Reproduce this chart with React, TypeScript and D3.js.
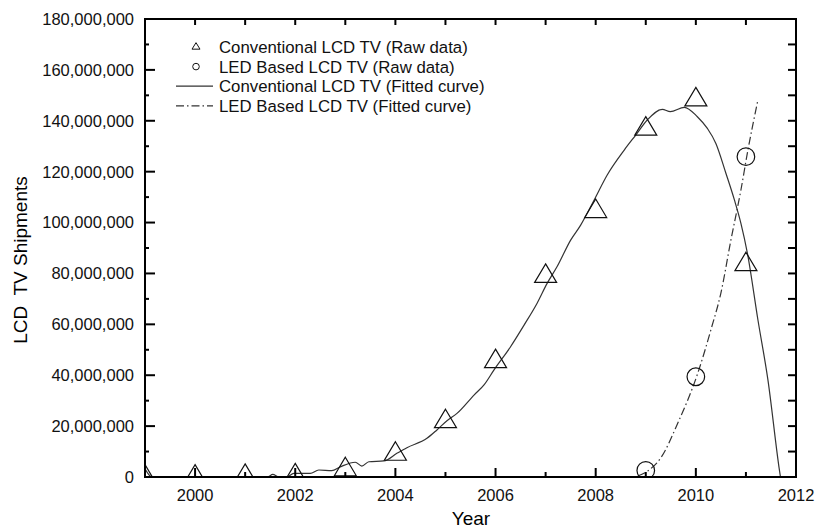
import React from "react";
import * as d3 from "d3";

// raw shipments (units)
const convYears = [1999, 2000, 2001, 2002, 2003, 2004, 2005, 2006, 2007, 2008, 2009, 2010, 2011];
const convRaw = [0, 0, 0.3e6, 0.5e6, 2.9e6, 9.0e6, 21.8e6, 45.4e6, 78.9e6, 104.4e6, 136.8e6, 148.3e6, 83.5e6];

const ledYears = [2009, 2010, 2011];
const ledRaw = [2.6e6, 39.4e6, 125.9e6];

// fitted curves: [year, millions]
const convFit: [number, number][] = [
  [1998.96, 4.7], [1999.14, 0], [2001.45, 0], [2001.55, 1.0], [2001.68, 0], [2001.83, 0],
  [2001.97, 1.45], [2002.3, 1.45], [2002.47, 2.75], [2002.73, 2.5], [2002.9, 4.0],
  [2003.2, 5.8], [2003.33, 4.3], [2003.47, 6.0], [2003.77, 6.3], [2004.03, 9.3],
  [2004.23, 11.5], [2004.63, 15.2], [2004.83, 18.5], [2005.03, 22.1], [2005.23, 25.0],
  [2005.57, 32.2], [2005.77, 36.2], [2005.97, 42.1], [2006.3, 51.2], [2006.57, 59.7],
  [2006.83, 68.3], [2007.03, 76.1], [2007.23, 82.7], [2007.5, 93.1], [2007.7, 99.0],
  [2007.97, 108.9], [2008.23, 118.7], [2008.57, 128.5], [2008.8, 134.4], [2009.03, 140.3],
  [2009.33, 144.5], [2009.49, 143.6], [2009.77, 145.3], [2010.03, 141.6], [2010.23, 137.0],
  [2010.4, 131.1], [2010.6, 119.4], [2010.77, 108.9], [2010.9, 99.7], [2011.03, 87.9],
  [2011.24, 61.7], [2011.44, 38.1], [2011.66, 3.9], [2011.72, -4],
];

const ledFit: [number, number][] = [
  [2008.84, 0.4], [2009.04, 2.4], [2009.3, 7.5], [2009.64, 21.2], [2010.04, 40.9],
  [2010.3, 57.8], [2010.5, 72.3], [2010.7, 93.1], [2010.9, 112.8], [2011.04, 128.5],
  [2011.24, 148.2],
];

const xTicks = [2000, 2002, 2004, 2006, 2008, 2010, 2012];
const legendLabels = [
  "Conventional LCD TV (Raw data)",
  "LED Based LCD TV (Raw data)",
  "Conventional LCD TV (Fitted curve)",
  "LED Based LCD TV (Fitted curve)",
];

const W = 815;
const H = 530;
const font = "'Liberation Sans', Arial, sans-serif";
const dashDot = "8,3,1.5,3";

const tri = (w: number, h: number) =>
  `M0,${-h * 2 / 3}L${w / 2},${h / 3}L${-w / 2},${h / 3}Z`;

export default function App() {
  const x = d3.scaleLinear().domain([1999, 2012]).range([145, 796]);
  const y = d3.scaleLinear().domain([0, 180e6]).range([477, 19]);
  const [x0, x1] = x.range();
  const [yb, yt] = y.range();

  const line = d3
    .line<[number, number]>()
    .x((d) => x(d[0]))
    .y((d) => y(d[1] * 1e6))
    .curve(d3.curveMonotoneX);

  const fmt = d3.format(",");
  const yMajor = d3.range(0, 180e6 + 1, 20e6);
  const yMinor = d3.range(10e6, 180e6, 20e6);
  const yAll = d3.range(0, 180e6 + 1, 10e6);
  const xAllYears = d3.range(2000, 2012);

  return (
    <svg
      width={W}
      height={H}
      style={{ position: "absolute", left: 0, top: 0, background: "#fff" }}
      fontFamily={font}
    >
      <defs>
        <clipPath id="plot">
          <rect x={x0} y={yt} width={x1 - x0} height={yb - yt} />
        </clipPath>
      </defs>

      {/* curves + symbols */}
      <g clipPath="url(#plot)">
        <path d={line(convFit) || ""} fill="none" stroke="#333" strokeWidth={1.2} />
        <path
          d={line(ledFit) || ""}
          fill="none"
          stroke="#333"
          strokeWidth={1.2}
          strokeDasharray={dashDot}
        />
        {convYears.map((yr, i) => (
          <path
            key={yr}
            d={tri(22, 18.5)}
            transform={`translate(${x(yr)},${y(convRaw[i])})`}
            fill="none"
            stroke="#111"
            strokeWidth={1.2}
          />
        ))}
        {ledYears.map((yr, i) => (
          <circle
            key={yr}
            cx={x(yr)}
            cy={y(ledRaw[i])}
            r={8.8}
            fill="none"
            stroke="#111"
            strokeWidth={1.2}
          />
        ))}
      </g>

      {/* frame */}
      <rect x={x0} y={yt} width={x1 - x0} height={yb - yt} fill="none" stroke="#000" strokeWidth={2} />

      {/* bottom / top ticks */}
      {xAllYears.map((yr) => {
        const major = yr % 2 === 0;
        return (
          <g key={yr}>
            <line x1={x(yr)} x2={x(yr)} y1={yb} y2={yb - (major ? 9 : 5)} stroke="#000" strokeWidth={2} />
            <line x1={x(yr)} x2={x(yr)} y1={yt} y2={yt + 6} stroke="#000" strokeWidth={2} />
          </g>
        );
      })}
      {xTicks.map((yr) => (
        <text key={yr} x={x(yr)} y={501} textAnchor="middle" fontSize={16.5} fill="#111">
          {yr}
        </text>
      ))}

      {/* left / right ticks */}
      {yMajor.map((v) => (
        <line key={"lm" + v} x1={x0} x2={x0 + 10} y1={y(v)} y2={y(v)} stroke="#000" strokeWidth={2} />
      ))}
      {yMinor.map((v) => (
        <line key={"ln" + v} x1={x0} x2={x0 + 4} y1={y(v)} y2={y(v)} stroke="#000" strokeWidth={2} />
      ))}
      {yAll.map((v) => (
        <line key={"r" + v} x1={x1} x2={x1 - 8} y1={y(v)} y2={y(v)} stroke="#000" strokeWidth={2} />
      ))}
      {yMajor.map((v) => (
        <text key={"t" + v} x={134} y={y(v)} dy="0.36em" textAnchor="end" fontSize={16.5} fill="#111">
          {fmt(v)}
        </text>
      ))}

      {/* axis titles */}
      <text x={471} y={525} textAnchor="middle" fontSize={19} fill="#000">
        Year
      </text>
      <text
        transform="translate(27,260) rotate(-90)"
        textAnchor="middle"
        fontSize={19}
        fill="#000"
        style={{ whiteSpace: "pre" }}
      >
        {"LCD  TV Shipments"}
      </text>

      {/* legend */}
      <g fontSize={16.8} fill="#111">
        {legendLabels.map((lab, i) => {
          const ly = 47 + i * 19.6;
          return (
            <g key={lab}>
              {i === 0 && (
                <path d={tri(8, 6.5)} transform={`translate(196,${ly})`} fill="none" stroke="#111" strokeWidth={1} />
              )}
              {i === 1 && <circle cx={196} cy={ly} r={3.3} fill="none" stroke="#111" strokeWidth={1} />}
              {i === 2 && <line x1={176} x2={213} y1={ly} y2={ly} stroke="#333" strokeWidth={1.2} />}
              {i === 3 && (
                <line x1={176} x2={213} y1={ly} y2={ly} stroke="#333" strokeWidth={1.2} strokeDasharray={dashDot} />
              )}
              <text x={219} y={ly} dy="0.36em">
                {lab}
              </text>
            </g>
          );
        })}
      </g>
    </svg>
  );
}
